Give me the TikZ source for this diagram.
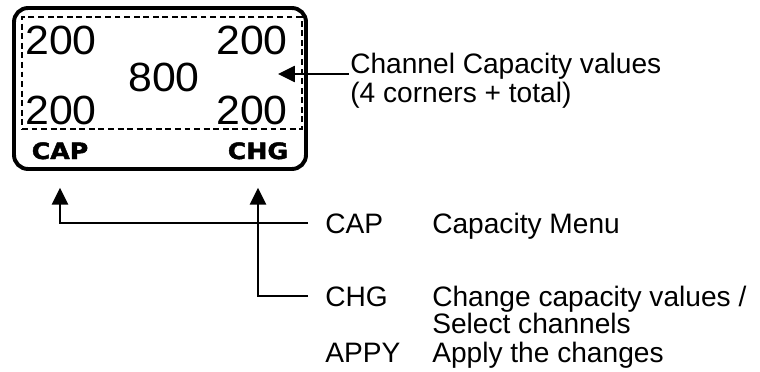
\documentclass[tikz,border=0pt]{standalone}
\usepackage{fontspec}
\setmainfont{Liberation Sans}
\newfontfamily\digitfont{Liberation Sans}[FakeStretch=1.05]
\newfontfamily\lcdfont{DejaVu Sans}[FakeStretch=1.12,BoldFeatures={FakeBold=2}]
\usetikzlibrary{arrows.meta,positioning}

\begin{document}
\begin{tikzpicture}[>=Latex,
  lcd/.style={draw,line width=2.8pt,rounded corners=10pt,minimum width=7.3cm,
    minimum height=4.025cm,inner sep=0pt},
  win/.style={draw,line width=0.9pt,dash pattern=on 4.2pt off 2.6pt,minimum width=7cm,
    minimum height=2.8cm,inner sep=0pt},
  num/.style={anchor=base,inner sep=0pt,font=\digitfont\fontsize{29}{31}\selectfont},
  soft/.style={anchor=base,inner sep=0pt,font=\lcdfont\bfseries\fontsize{16}{18}\selectfont},
  lbl/.style={anchor=base west,inner sep=0pt,font=\fontsize{20}{22}\selectfont},
  a/.style={-{Triangle[length=12pt,width=11.5pt]},line width=1.2pt}]
\useasboundingbox (0,0) rectangle (19,-9.3);
% display
\node[lcd] (disp) at (4,-2.2125) {};
\node[win] (cells) at (4.05,-1.825) {};
\node[num] (ctl) at (1.525,-1.375) {200};
\node[num] (ctr) at (6.3,-1.375) {200};
\node[num] (cbl) at (1.525,-3.125) {200};
\node[num] (cbr) at (6.3,-3.125) {200};
\node[num] (ctot) at (4.1,-2.3) {800};
\node[soft] (kcap) at (1.5,-3.975) {CAP};
\node[soft] (kchg) at (6.45,-3.975) {CHG};
% callouts
\node[lbl] (capval) at (8.75,-1.85) {Channel Capacity values};
\node[lbl] (capnote) at (8.75,-2.575) {(4 corners + total)};
\coordinate (valtip) at (6.95,-1.85);
\draw[a] ([xshift=-1pt]capval.base west) -- (valtip);
\node[lbl] (capkey) at (8.125,-5.825) {CAP};
\node[lbl] (capdesc) at (10.8,-5.825) {Capacity Menu};
\node[lbl] (chgkey) at (8.125,-7.65) {CHG};
\node[lbl] (chgdesc) at (10.8,-7.65) {Change capacity values /};
\node[lbl] (chgdesc2) at (10.8,-8.325) {Select channels};
\node[lbl] (appkey) at (8.125,-9.05) {APPY};
\node[lbl] (appdesc) at (10.8,-9.05) {Apply the changes};
\draw[a,shorten >=20pt] ([xshift=-12pt]capkey.west) -| (kcap.south);
\draw[a,shorten >=20pt] ([xshift=-12pt]chgkey.west) -| (kchg.south);
\end{tikzpicture}
\end{document}
